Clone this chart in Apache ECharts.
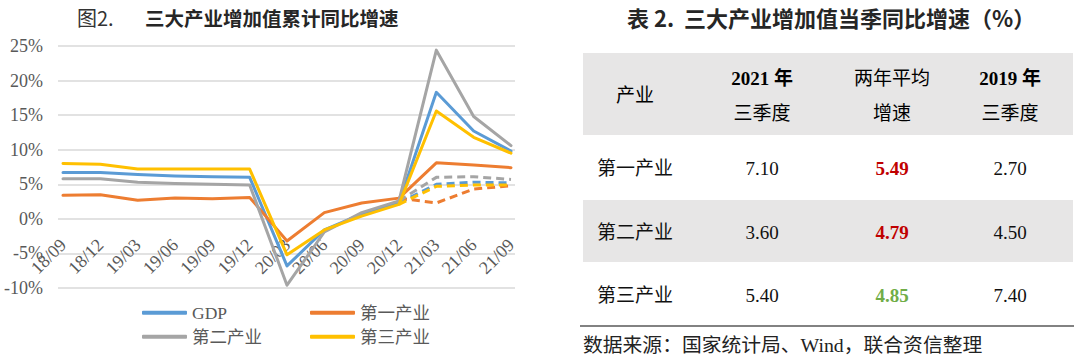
<!DOCTYPE html>
<html>
<head>
<meta charset="utf-8">
<script src="https://cdn.jsdelivr.net/npm/echarts@6/dist/echarts.min.js"></script>
<style>
html,body{margin:0;padding:0;background:#fff;}
#chart{width:1080px;height:361px;}
</style>
</head>
<body>
<div id="chart"></div>
<script>
// ---- Chart data ----
const categories = ['18/09','18/12','19/03','19/06','19/09','19/12','20/03','20/06','20/09','20/12','21/03','21/06','21/09'];
const seriesNames = ['GDP','第一产业','第二产业','第三产业'];
const gdp       = [6.7, 6.7, 6.4, 6.2, 6.1, 6.0, -6.8, -1.6, 0.7, 2.3, 18.3, 12.7, 9.8];
const primary   = [3.4, 3.5, 2.7, 3.0, 2.9, 3.1, -3.2, 0.9, 2.3, 3.0, 8.1, 7.8, 7.4];
const secondary = [5.8, 5.8, 5.3, 5.1, 5.0, 4.9, -9.6, -1.9, 0.9, 2.6, 24.4, 14.8, 10.6];
const tertiary  = [8.0, 7.9, 7.2, 7.2, 7.2, 7.2, -5.2, -1.6, 0.4, 2.1, 15.6, 11.8, 9.5];
// two-year average growth for 21/03, 21/06, 21/09 (dashed)
const gdpAvg       = [5.0, 5.3, 5.2];
const primaryAvg   = [2.3, 4.3, 4.8];
const secondaryAvg = [6.0, 6.1, 5.7];
const tertiaryAvg  = [4.7, 4.9, 4.9];
const yMin = -10, yMax = 25, yStep = 5;

// ---- Table data ----
const tableHeaders = [['产业'], ['2021 年', '三季度'], ['两年平均', '增速'], ['2019 年', '三季度']];
const tableRowNames = ['第一产业', '第二产业', '第三产业'];
const q3Of2021 = ['7.10', '3.60', '5.40'];
const twoYearAvg = ['5.49', '4.79', '4.85'];
const q3Of2019 = ['2.70', '4.50', '7.40'];
const avgColors = ['#C00000', '#C00000', '#70AD47'];

const leftTitleNo = '图2.';
const leftTitle = '三大产业增加值累计同比增速';
const rightTitle = '表 2.  三大产业增加值当季同比增速（%）';
const sourceText = '数据来源：国家统计局、Wind，联合资信整理';

// ---- Styles ----
const colors = ['#5B9BD5', '#ED7D31', '#A5A5A5', '#FFC000'];
const serif = "'Liberation Serif','Times New Roman','Noto Sans CJK SC',serif";
const cjk = "'Noto Sans CJK SC','Liberation Serif',sans-serif";

const solidData = [gdp, primary, secondary, tertiary];
const avgData = [gdpAvg, primaryAvg, secondaryAvg, tertiaryAvg];
const splitIdx = categories.indexOf('20/12');

function dashedSeries(base, avg) {
  const arr = categories.map(() => null);
  arr[splitIdx] = base[splitIdx];
  avg.forEach((v, i) => { arr[splitIdx + 1 + i] = v; });
  return arr;
}

const series = [];
seriesNames.forEach((name, i) => {
  series.push({
    name: name, type: 'line', xAxisIndex: 0, yAxisIndex: 0,
    data: solidData[i], showSymbol: false, symbol: 'none', smooth: false,
    lineStyle: { color: colors[i], width: 3, cap: 'round', join: 'round' },
    itemStyle: { color: colors[i] }, z: 3 + i, animation: false
  });
});
seriesNames.forEach((name, i) => {
  series.push({
    name: name + '两年平均', type: 'line', xAxisIndex: 0, yAxisIndex: 0,
    data: dashedSeries(solidData[i], avgData[i]), showSymbol: false, symbol: 'none',
    lineStyle: { color: colors[i], width: 3, type: [8, 5] },
    itemStyle: { color: colors[i] }, z: 2, animation: false
  });
});

// legends: 2x2
const legendPos = [[137, 299], [305, 299], [137, 323], [305, 323]];
const legends = seriesNames.map((name, i) => ({
  data: [name], left: legendPos[i][0], top: legendPos[i][1],
  icon: 'roundRect', itemWidth: 45, itemHeight: 4, itemGap: 0,
  textStyle: { color: '#595959', fontSize: 17.5, fontFamily: serif },
  selectedMode: false
}));

// table graphics
const tblX = 583, tblW = 490;
const colCenters = [635, 762, 892, 1010];
const graphics = [];
graphics.push({ type: 'rect', shape: { x: tblX, y: 53, width: tblW, height: 82 }, style: { fill: '#E7E6E6' }, silent: true });
graphics.push({ type: 'rect', shape: { x: tblX, y: 200, width: tblW, height: 62 }, style: { fill: '#E7E6E6' }, silent: true });
graphics.push({ type: 'line', shape: { x1: 580, y1: 326, x2: 1074, y2: 326 }, style: { stroke: '#595959', lineWidth: 1.5 }, silent: true });
tableHeaders.forEach((lines, c) => {
  const ys = lines.length === 1 ? [95] : [78, 113];
  lines.forEach((t, k) => {
    const bold = /\d/.test(t);
    graphics.push({
      type: 'text', x: colCenters[c], y: ys[k],
      style: { text: t, fill: '#000', font: (bold ? 'bold ' : '') + '19px ' + serif, textAlign: 'center', textVerticalAlign: 'middle' },
      silent: true
    });
  });
});
const rowYs = [168, 232, 295];
tableRowNames.forEach((name, r) => {
  const cells = [name, q3Of2021[r], twoYearAvg[r], q3Of2019[r]];
  cells.forEach((t, c) => {
    const isAvg = c === 2;
    graphics.push({
      type: 'text', x: colCenters[c], y: rowYs[r],
      style: { text: t, fill: isAvg ? avgColors[r] : '#111', font: (isAvg ? 'bold ' : '') + '19px ' + serif, textAlign: 'center', textVerticalAlign: 'middle' },
      silent: true
    });
  });
});
graphics.push({
  type: 'text', x: tblX, y: 345,
  style: { text: sourceText, fill: '#222', font: '19.8px ' + serif, textAlign: 'left', textVerticalAlign: 'middle' },
  silent: true
});
graphics.push({
  type: 'text', x: 627, y: 17,
  style: { text: rightTitle, fill: '#262626', font: 'bold 22px ' + cjk, textAlign: 'left', textVerticalAlign: 'middle' },
  silent: true
});
graphics.push({
  type: 'text', x: 77, y: 17,
  style: { text: leftTitleNo, fill: '#333', font: '20px ' + cjk, textAlign: 'left', textVerticalAlign: 'middle' },
  silent: true
});
graphics.push({
  type: 'text', x: 145, y: 17,
  style: { text: leftTitle, fill: '#262626', font: 'bold 19.5px ' + cjk, textAlign: 'left', textVerticalAlign: 'middle' },
  silent: true
});

const gridTop = 46, gridBottomY = 288;
// pixel distance from plot bottom to the 0% line (x-axis labels sit on the zero line)
const zeroOffset = (gridBottomY - gridTop) * (0 - yMin) / (yMax - yMin);

const chart = echarts.init(document.getElementById('chart'), null, { renderer: 'svg', width: 1080, height: 361 });
chart.setOption({
  animation: false,
  backgroundColor: '#fff',
  grid: [
    { left: 63, right: 1080 - 511, top: gridTop, bottom: 361 - gridBottomY, containLabel: false },
    { left: 58, right: 1080 - 515, top: gridTop, bottom: 361 - gridBottomY, containLabel: false }
  ],
  xAxis: [
    {
      type: 'category', gridIndex: 0, data: categories, boundaryGap: false,
      position: 'bottom', offset: -zeroOffset,
      axisLine: { show: false, onZero: false },
      axisTick: { show: false },
      axisLabel: { rotate: 45, color: '#595959', fontSize: 18, fontFamily: serif, margin: 23, interval: 0 },
      splitLine: { show: false }
    },
    { type: 'value', gridIndex: 1, min: 0, max: 1, show: false }
  ],
  yAxis: [
    {
      type: 'value', gridIndex: 0, min: yMin, max: yMax, interval: yStep, show: true,
      axisLine: { show: false }, axisTick: { show: false }, axisLabel: { show: false },
      splitLine: { show: false }
    },
    {
      type: 'value', gridIndex: 1, min: yMin, max: yMax, interval: yStep,
      axisLine: { show: false }, axisTick: { show: false },
      axisLabel: { formatter: '{value}%', color: '#595959', fontSize: 18, fontFamily: serif, margin: 15 },
      splitLine: { show: true, lineStyle: { color: '#D9D9D9', width: 1.5 } }
    }
  ],
  legend: legends,
  series: series,
  graphic: graphics
});
</script>
</body>
</html>
